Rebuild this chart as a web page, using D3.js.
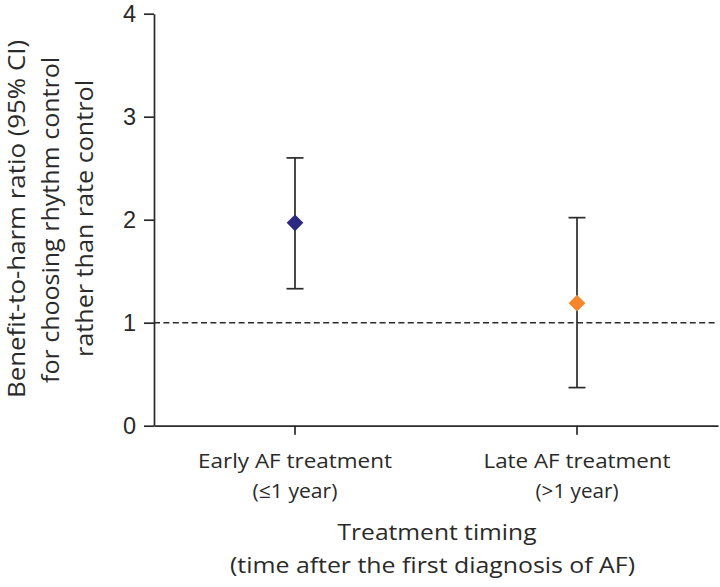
<!DOCTYPE html>
<html><head><meta charset="utf-8">
<script src="https://cdn.jsdelivr.net/npm/d3@7"></script>
<style>body{margin:0;background:#fff}svg{display:block}</style>
</head><body>
<svg id="c" width="720" height="587"></svg>
<script>
const categories = ["Early AF treatment", "Late AF treatment"];
const subLabels = ["(\u22641 year)", "(>1 year)"];
const estimates = [1.97, 1.19];
const lowerCI = [1.33, 0.37];
const upperCI = [2.60, 2.02];
const colors = ["#2b2a80", "#f5862a"];
const yTicks = [0, 1, 2, 3, 4];
const xTitle = ["Treatment timing", "(time after the first diagnosis of AF)"];
const yTitle = ["Benefit-to-harm ratio (95% CI)", "for choosing rhythm control", "rather than rate control"];

const svg = d3.select("#c");
const x = d3.scaleBand().domain(categories).range([154, 718]);
const y = d3.scaleLinear().domain([0, 4]).range([425.7, 13.7]);
const ink = "#2a2a2a";
const font = "'Open Sans', sans-serif";
const cx = c => x(c) + x.bandwidth() / 2;

// y axis
const ya = svg.append("g").attr("transform", "translate(154,0)")
  .call(d3.axisLeft(y).tickValues(yTicks).tickFormat(d3.format("d")).tickSize(10).tickPadding(8).tickSizeOuter(0));
ya.select(".domain").attr("stroke", ink).attr("stroke-width", 1.7);
ya.selectAll(".tick line").attr("stroke", ink).attr("stroke-width", 1.7);
ya.selectAll(".tick text").attr("font-family", "'Liberation Sans', Arial, sans-serif")
  .attr("font-size", 23.5).attr("fill", ink);

// x axis
const xa = svg.append("g").attr("transform", "translate(0,425.7)")
  .call(d3.axisBottom(x).tickSize(9).tickSizeOuter(0).tickFormat(""));
xa.select(".domain").attr("stroke", ink).attr("stroke-width", 1.7);
xa.selectAll(".tick line").attr("stroke", ink).attr("stroke-width", 1.7);

// reference line
svg.append("line").attr("x1", 154).attr("x2", 718)
  .attr("y1", y(1)).attr("y2", y(1))
  .attr("stroke", ink).attr("stroke-width", 1.5).attr("stroke-dasharray", "6,3.4");

// category labels
const catLen = [194, 187], subLen = [85, 83];
categories.forEach((c, i) => {
  svg.append("text").attr("x", cx(c)).attr("y", 468).attr("text-anchor", "middle")
    .attr("font-family", font).attr("font-size", 20.5).attr("fill", ink)
    .attr("textLength", catLen[i]).attr("lengthAdjust", "spacingAndGlyphs").text(c);
  svg.append("text").attr("x", cx(c)).attr("y", 498).attr("text-anchor", "middle")
    .attr("font-family", font).attr("font-size", 20.5).attr("fill", ink)
    .attr("textLength", subLen[i]).attr("lengthAdjust", "spacingAndGlyphs").text(subLabels[i]);
});

// error bars + points
const g = svg.append("g");
categories.forEach((c, i) => {
  const px = cx(c);
  g.append("line").attr("x1", px).attr("x2", px).attr("y1", y(lowerCI[i])).attr("y2", y(upperCI[i]))
    .attr("stroke", ink).attr("stroke-width", 1.7);
  [lowerCI[i], upperCI[i]].forEach(v => {
    g.append("line").attr("x1", px - 8.5).attr("x2", px + 8.5).attr("y1", y(v)).attr("y2", y(v))
      .attr("stroke", ink).attr("stroke-width", 1.7);
  });
  g.append("path").attr("d", d3.symbol().type(d3.symbolSquare).size(140)())
    .attr("transform", `translate(${px},${y(estimates[i])}) rotate(45)`)
    .attr("fill", colors[i]);
});

// x title
const xtY = [540, 573], xtX = [437, 432.5], xtLen = [199, 405];
xTitle.forEach((t, i) => {
  svg.append("text").attr("x", xtX[i]).attr("y", xtY[i]).attr("text-anchor", "middle")
    .attr("font-family", font).attr("font-size", 21.5).attr("fill", ink)
    .attr("textLength", xtLen[i]).attr("lengthAdjust", "spacingAndGlyphs").text(t);
});

// y title
const ytX = [25, 59, 93], ytC = [219, 220, 218.5], ytLen = [358, 326, 277];
yTitle.forEach((t, i) => {
  svg.append("text").attr("transform", `translate(${ytX[i]},${ytC[i]}) rotate(-90)`)
    .attr("text-anchor", "middle").attr("font-family", font).attr("font-size", 23)
    .attr("fill", ink).attr("textLength", ytLen[i]).attr("lengthAdjust", "spacingAndGlyphs").text(t);
});
</script>
</body></html>
